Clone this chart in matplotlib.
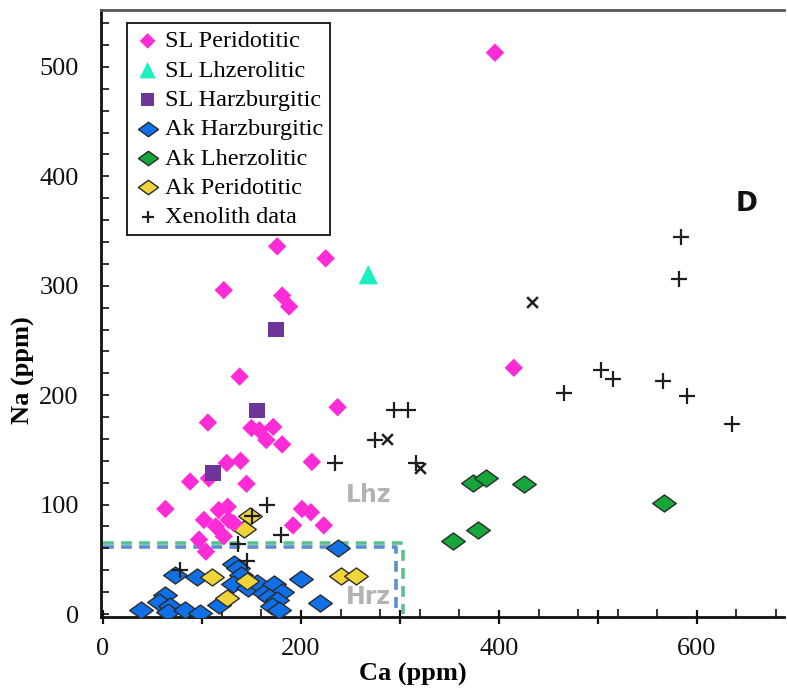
import matplotlib
matplotlib.use("Agg")
import matplotlib.pyplot as plt
from matplotlib.ticker import MultipleLocator, FixedLocator, FuncFormatter
from matplotlib.path import Path

# ---- Ca vs Na (ppm) data ----
sl_perid_ca = [396, 176, 225, 122, 181, 188, 138, 415, 237, 106, 150, 158, 172, 165, 181,
               139, 125, 211, 88, 107, 145, 63, 117, 126, 102, 114, 127, 132, 122, 97, 104,
               201, 210, 192, 223]
sl_perid_na = [513, 336, 325, 296, 291, 281, 217, 225, 189, 175, 170, 168, 171, 159, 155,
               140, 138, 139, 121, 124, 119, 96, 95, 98, 86, 80, 86, 83, 71, 68, 57,
               96, 93, 81, 81]

sl_lherz_ca = [268]
sl_lherz_na = [310]

sl_harz_ca = [175, 156, 111]
sl_harz_na = [260, 186, 129]

ak_harz_ca = [237, 200, 219, 73, 95, 63, 57, 68, 66, 83, 98, 38, 117, 132, 136, 139, 131,
              147, 156, 163, 173, 181, 168, 176, 171, 178]
ak_harz_na = [60, 32, 10, 36, 34, 17, 11, 7, 2, 4, 1, 4, 8, 46, 42, 36, 27,
              24, 28, 19, 27, 20, 16, 13, 7, 4]

ak_lherz_ca = [354, 379, 374, 387, 425, 567]
ak_lherz_na = [67, 77, 120, 124, 119, 101]

ak_perid_ca = [149, 142, 110, 146, 125, 240, 256]
ak_perid_na = [90, 78, 34, 30, 15, 35, 35]

xeno_ca = [584, 582, 466, 503, 515, 566, 590, 635, 294, 308, 275, 234, 316,
           166, 151, 180, 136, 146, 78]
xeno_na = [345, 306, 202, 223, 215, 213, 199, 174, 186, 186, 159, 138, 138,
           100, 90, 72, 64, 48, 40]
# xenolith points plotted with a cross-shaped glyph
xeno_x_ca = [433, 287, 320]
xeno_x_na = [285, 160, 133]

# field boundaries (Lhz / Hrz)
lhz_box_ca = [0, 303, 303]
lhz_box_na = [64.5, 64.5, 0]
hrz_box_ca = [0, 296.5, 296.5]
hrz_box_na = [61.5, 61.5, 0]

x_major = [0, 100, 200, 300, 400, 500, 600]
x_labels = {0: "0", 200: "200", 400: "400", 600: "600"}

plt.rcParams["font.family"] = ["Liberation Serif", "DejaVu Serif"]

fig = plt.figure(figsize=(7.88, 6.89), dpi=100)
ax = fig.add_axes([101 / 788, (689 - 617.3) / 689, 683 / 788, 607.3 / 689])

wide_diamond = Path([(-1, 0), (0, 0.72), (1, 0), (0, -0.72), (-1, 0)],
                    [Path.MOVETO, Path.LINETO, Path.LINETO, Path.LINETO, Path.CLOSEPOLY])

ax.plot(lhz_box_ca, lhz_box_na, color="#5cc08e", lw=2.6, ls=(0, (3, 2)), zorder=1)
ax.plot(hrz_box_ca, hrz_box_na, color="#5b8fd0", lw=2.6, ls=(0, (3, 2)), zorder=1)

h_ak_harz = ax.scatter(ak_harz_ca, ak_harz_na, marker=wide_diamond, s=290, c="#0f70e8",
                       edgecolors="#2b2b2b", linewidths=1.0, zorder=3, label="Ak Harzburgitic")
h_ak_lherz = ax.scatter(ak_lherz_ca, ak_lherz_na, marker=wide_diamond, s=290, c="#16a63a",
                        edgecolors="#2b2b2b", linewidths=1.0, zorder=3, label="Ak Lherzolitic")
h_ak_perid = ax.scatter(ak_perid_ca, ak_perid_na, marker=wide_diamond, s=290, c="#f0d43a",
                        edgecolors="#2b2b2b", linewidths=1.0, zorder=3, label="Ak Peridotitic")

h_xeno = ax.scatter(xeno_ca, xeno_na, marker="+", s=120, c="#1e1e1e", linewidths=1.6,
                    zorder=4, label="Xenolith data")
ax.scatter(xeno_x_ca, xeno_x_na, marker="x", s=60, c="#1e1e1e", linewidths=1.8, zorder=4)

h_sl_perid = ax.scatter(sl_perid_ca, sl_perid_na, marker="D", s=88, c="#ff2bd6",
                        edgecolors="none", zorder=5, label="SL Peridotitic")
h_sl_lherz = ax.scatter(sl_lherz_ca, sl_lherz_na, marker="^", s=190, c="#19f0c0",
                        edgecolors="none", zorder=5, label="SL Lhzerolitic")
h_sl_harz = ax.scatter(sl_harz_ca, sl_harz_na, marker="s", s=130, c="#6e3598",
                       edgecolors="none", zorder=5, label="SL Harzburgitic")

# field labels
ax.text(268, 109, "Lhz", color="#b3b3b3", fontsize=17, fontweight="bold",
        family="DejaVu Sans", ha="center", va="center", zorder=2)
ax.text(268, 16, "Hrz", color="#b3b3b3", fontsize=17, fontweight="bold",
        family="DejaVu Sans", ha="center", va="center", zorder=2)
ax.text(650, 375, "D", color="#111111", fontsize=19, fontweight="bold",
        family="DejaVu Sans", ha="center", va="center")

ax.set_xlim(-2, 688)
ax.set_ylim(-3, 552)

ax.xaxis.set_major_locator(FixedLocator(x_major))
ax.xaxis.set_major_formatter(FuncFormatter(lambda v, p: x_labels.get(int(round(v)), "")))
ax.xaxis.set_minor_locator(MultipleLocator(40))
ax.yaxis.set_major_locator(MultipleLocator(100))
ax.yaxis.set_minor_locator(MultipleLocator(20))

ax.tick_params(axis="x", which="major", direction="inout", length=10, width=1.6,
               labelsize=19, pad=10, colors="#111111")
ax.tick_params(axis="x", which="minor", direction="in", length=6, width=1.2, colors="#111111")
ax.tick_params(axis="y", which="both", direction="in", length=6, width=1.2,
               labelsize=19, pad=16, colors="#111111")
ax.tick_params(top=False, right=False, which="both")

ax.spines["right"].set_visible(False)
ax.spines["top"].set_color("#555555")
ax.spines["top"].set_linewidth(2.0)
ax.spines["bottom"].set_linewidth(2.0)
ax.spines["left"].set_linewidth(2.0)
ax.spines["bottom"].set_color("#111111")
ax.spines["left"].set_color("#111111")

ax.set_xlabel("Ca (ppm)", fontsize=19, fontweight="bold", labelpad=2)
ax.xaxis.set_label_coords(0.457, -0.075)
ax.set_ylabel("Na (ppm)", fontsize=19, fontweight="bold", labelpad=2)
ax.yaxis.set_label_coords(-0.097, 0.407)

leg = ax.legend(handles=[h_sl_perid, h_sl_lherz, h_sl_harz, h_ak_harz, h_ak_lherz,
                         h_ak_perid, h_xeno],
                loc="upper left", bbox_to_anchor=(0.038, 0.9786), borderaxespad=0,
                fontsize=17.5, frameon=True, fancybox=False, framealpha=1,
                edgecolor="#111111", labelspacing=0.3, handletextpad=0.15,
                handlelength=1.1, borderpad=0.3, markerscale=0.85)
leg.get_frame().set_linewidth(1.3)

fig.savefig("out.png", dpi=100)
